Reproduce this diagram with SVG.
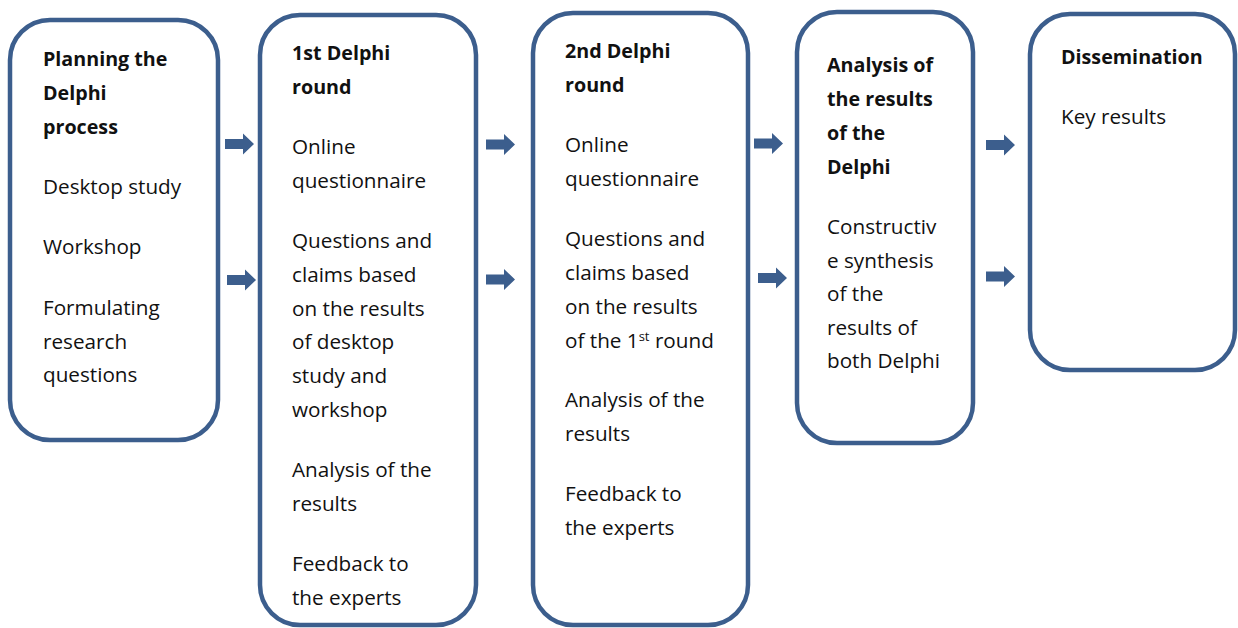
<svg xmlns="http://www.w3.org/2000/svg" width="1238" height="628" viewBox="0 0 1238 628">
<style>
.box{fill:#fff;stroke:#3c5e8d;stroke-width:4.5}
text{font-family:"Open Sans","Noto Sans",sans-serif;font-size:20.7px;fill:#111}
.b{font-weight:bold;font-size:19.7px}
.arr{fill:#3c5e8d}
</style>
<defs>
<path id="arrow" d="M0,-5 H18 V-10.5 L29,0 L18,10.5 V5 H0 Z"/>
</defs>
<rect width="1238" height="628" fill="#fff"/>
<g id="node1">
<rect class="box" x="10" y="20" width="208" height="420" rx="40"/>
<text x="43" y="66" class="b">Planning the</text>
<text x="43" y="100" class="b">Delphi</text>
<text x="43" y="134" class="b">process</text>
<text x="43" y="194">Desktop study</text>
<text x="43" y="254">Workshop</text>
<text x="43" y="315">Formulating</text>
<text x="43" y="349">research</text>
<text x="43" y="382">questions</text>
</g>
<g id="node2">
<rect class="box" x="260" y="15" width="216" height="610" rx="40"/>
<text x="292" y="60" class="b">1st Delphi</text>
<text x="292" y="94" class="b">round</text>
<text x="292" y="154">Online</text>
<text x="292" y="188">questionnaire</text>
<text x="292" y="248">Questions and</text>
<text x="292" y="282">claims based</text>
<text x="292" y="316">on the results</text>
<text x="292" y="349">of desktop</text>
<text x="292" y="383">study and</text>
<text x="292" y="417">workshop</text>
<text x="292" y="477">Analysis of the</text>
<text x="292" y="511">results</text>
<text x="292" y="571">Feedback to</text>
<text x="292" y="605">the experts</text>
</g>
<g id="node3">
<rect class="box" x="533" y="13" width="215" height="612" rx="40"/>
<text x="565" y="58" class="b">2nd Delphi</text>
<text x="565" y="92" class="b">round</text>
<text x="565" y="152">Online</text>
<text x="565" y="186">questionnaire</text>
<text x="565" y="246">Questions and</text>
<text x="565" y="280">claims based</text>
<text x="565" y="314">on the results</text>
<text x="565" y="348">of the 1<tspan font-size="13" dy="-7">st</tspan><tspan dy="7"> round</tspan></text>
<text x="565" y="407">Analysis of the</text>
<text x="565" y="441">results</text>
<text x="565" y="501">Feedback to</text>
<text x="565" y="535">the experts</text>
</g>
<g id="node4">
<rect class="box" x="797" y="12" width="176" height="431" rx="40"/>
<text x="827" y="72" class="b">Analysis of</text>
<text x="827" y="106" class="b">the results</text>
<text x="827" y="140" class="b">of the</text>
<text x="827" y="174" class="b">Delphi</text>
<text x="827" y="234">Constructiv</text>
<text x="827" y="268">e synthesis</text>
<text x="827" y="301">of the</text>
<text x="827" y="335">results of</text>
<text x="827" y="368">both Delphi</text>
</g>
<g id="node5">
<rect class="box" x="1030" y="14" width="205" height="356" rx="40"/>
<text x="1061" y="64" class="b">Dissemination</text>
<text x="1061" y="124">Key results</text>
</g>
<g id="connectors" class="arr">
<use href="#arrow" x="225" y="144"/>
<use href="#arrow" x="227" y="280"/>
<use href="#arrow" x="486" y="144.5"/>
<use href="#arrow" x="486" y="279.5"/>
<use href="#arrow" x="754" y="143.5"/>
<use href="#arrow" x="758" y="278"/>
<use href="#arrow" x="986" y="145"/>
<use href="#arrow" x="986" y="276.5"/>
</g>
</svg>
